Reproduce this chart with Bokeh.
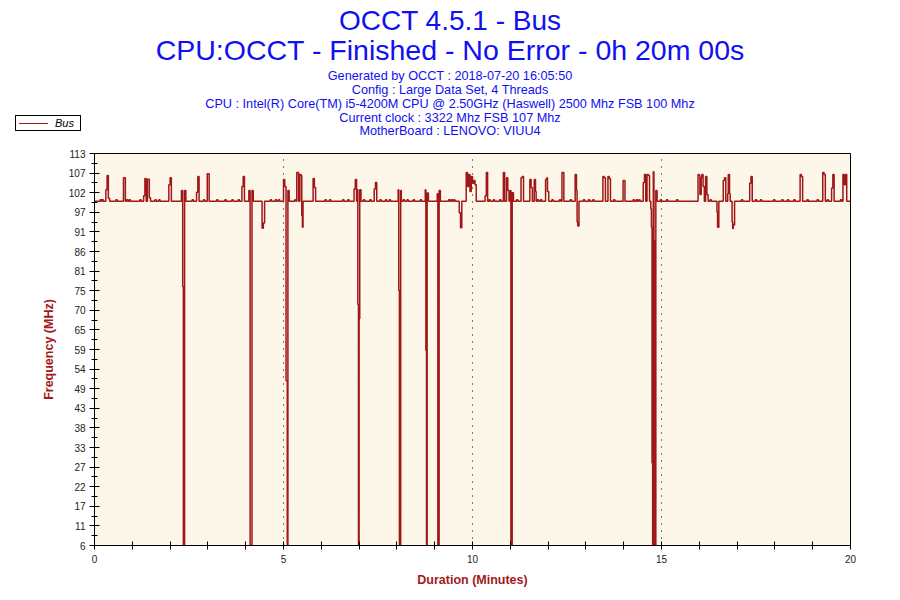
from bokeh.plotting import figure
from bokeh.layouts import column
from bokeh.models import Range1d, FixedTicker, ColumnDataSource, Div
from bokeh.embed import file_html
from bokeh.resources import INLINE

# ---------------- data ----------------
BASE_MHZ = 100.0          # steady bus clock
BLIP_MHZ = 100.4          # tiny one-sample bumps
DURATION_S = 1200         # 20 minutes

# moments (seconds) where the bus value changes, and the value from then on
change_s = [18, 20, 22, 24,
            46, 49,
            78, 80, 82, 84, 87, 89,
            118, 120, 122,
            138, 140, 141, 143, 145,
            162, 164, 166,
            179, 182,
            234, 236, 238,
            245, 247, 250, 252,
            266, 268, 270,
            300, 302, 304, 306, 307, 309,
            321, 324, 326, 328, 329, 330, 331,
            347, 349, 351,
            412, 414, 416, 417, 418, 419, 420, 421, 423,
            444, 446, 448,
            482, 483, 484, 486, 487,
            525, 526, 527, 528, 530,
            544, 545, 547, 549,
            579, 581, 583,
            590, 592, 594, 596, 598, 600, 602, 604, 606,
            620, 622, 624,
            649, 651,
            654, 656, 658, 659, 660, 661, 663, 665,
            677, 679, 681,
            691, 693, 695, 698, 700, 701,
            716, 718, 719, 721,
            742, 745,
            763, 765, 766, 767, 769,
            807, 809, 811,
            815, 817, 819,
            839, 842,
            871, 873, 875,
            877, 879, 881,
            883, 884, 885, 886, 887, 888, 889, 891, 893,
            958, 960, 961, 963, 964, 966, 968, 970, 972, 974,
            988, 989, 991,
            998, 1000, 1002,
            1005, 1006, 1008, 1009,
            1012, 1013, 1014, 1016,
            1040, 1042, 1044,
            1120, 1122, 1124,
            1156, 1158, 1160,
            1170, 1172, 1174,
            1188, 1190, 1192, 1194]
change_v = [103.1, 107.0, 100.8, 100,
            106.4, 100,
            101.5, 106.2, 100, 106.0, 100.9, 100,
            104.5, 106.4, 100,
            102.9, 76.7, 6, 102.9, 100,
            102.4, 106.7, 100,
            107.5, 100,
            104.0, 106.7, 100,
            102.9, 6, 102.9, 100,
            92.6, 94.0, 100,
            105.9, 104.0, 51.0, 6, 102.9, 100,
            107.8, 100, 107.3, 107.0, 96.1, 92.9, 100,
            106.2, 103.7, 100,
            103.3, 105.9, 100, 103.1, 71.8, 6, 67.9, 103.1, 100,
            103.3, 105.1, 100,
            103.1, 75.6, 6, 102.9, 100,
            103.1, 59.2, 6, 102.2, 100,
            102.0, 6, 102.9, 100,
            96.8, 92.7, 100,
            107.8, 104.0, 107.3, 102.6, 106.7, 104.9, 105.6, 104.5, 100,
            101.5, 107.8, 100,
            107.8, 100,
            106.4, 102.9, 100, 101.8, 102.9, 6, 102.3, 100,
            106.4, 106.7, 100,
            105.9, 103.7, 100, 105.9, 102.6, 100,
            105.9, 106.4, 102.6, 100,
            107.8, 100,
            107.3, 102.9, 94.3, 93.2, 100,
            106.7, 106.4, 100,
            106.7, 106.2, 100,
            105.6, 100,
            105.1, 107.3, 100,
            107.3, 107.0, 100,
            97.9, 92.9, 28.5, 6, 108.0, 89.3, 6, 102.9, 100,
            107.3, 107.0, 101.8, 106.4, 107.3, 104.0, 100, 106.7, 101.8, 100,
            97.0, 92.9, 100,
            105.6, 106.4, 100,
            102.0, 107.3, 102.0, 100,
            94.3, 92.5, 93.5, 100,
            104.9, 106.7, 100,
            107.3, 106.7, 100,
            107.8, 107.3, 100,
            103.6, 107.3, 100,
            107.3, 104.5, 107.3, 100]

# one-sample bumps of the baseline (seconds)
blip_s = [9, 12, 34, 51, 55, 72, 96, 102, 155, 173, 194, 207, 218, 228, 279, 287,
          292, 318, 366, 373, 394, 402, 427, 437, 453, 462, 468, 490, 496, 506, 517,
          562, 566, 570, 626, 633, 643, 670, 703, 708, 726, 738, 755, 776, 784, 791,
          824, 855, 860, 864, 898, 908, 924, 977, 1027, 1049, 1057, 1078, 1091, 1100,
          1110, 1131, 1147, 1163, 1184]

x_tick_minutes = list(range(0, 21))
x_tick_labels = {0: "0", 5: "5", 10: "10", 15: "15", 20: "20"}
y_tick_labels = ["6", "11", "17", "22", "27", "33", "38", "43", "49", "54", "59",
                 "65", "70", "75", "81", "86", "91", "97", "102", "107", "113"]

titles = ["OCCT 4.5.1 - Bus", "CPU:OCCT - Finished - No Error - 0h 20m 00s"]
info_lines = ["Generated by OCCT : 2018-07-20 16:05:50",
              "Config : Large Data Set, 4 Threads",
              "CPU : Intel(R) Core(TM) i5-4200M CPU @ 2.50GHz (Haswell) 2500 Mhz FSB 100 Mhz",
              "Current clock : 3322 Mhz FSB 107 Mhz",
              "MotherBoard : LENOVO: VIUU4"]
series_name = "Bus"

# ---------------- build the step series ----------------
pts = [(0, BASE_MHZ)]
pts += list(zip(change_s, change_v))
for b in blip_s:
    pts += [(b, BLIP_MHZ), (b + 2, BASE_MHZ)]
pts.append((DURATION_S, BASE_MHZ))
pts.sort(key=lambda p: p[0])
src = ColumnDataSource(dict(t=[p[0] / 60.0 for p in pts], v=[p[1] for p in pts]))

# ---------------- styles ----------------
FONT = "Liberation Sans"
LINE_RED = "#A01717"
LABEL_RED = "#A31A1A"
BLUE = "#1010F0"
LINE_W = 1.5

PAGE_W = 900
HEAD_H = 140            # header strip (titles + legend)
CHART_H = 460

# ---------------- header strip (titles, run info, legend) ----------------
def text_line(text, baseline_y, size):
    top = baseline_y - 0.8465 * size      # line-height 1em -> baseline sits 0.8465em below top
    return (f'<div style="position:absolute;left:0;top:{top:.1f}px;width:{PAGE_W}px;'
            f'text-align:center;white-space:nowrap;font-size:{size}px;line-height:{size}px;'
            f'color:{BLUE};">{text}</div>')

parts = [text_line(titles[0], 31, 28.0), text_line(titles[1], 60, 28.5)]
for i, line in enumerate(info_lines):
    parts.append(text_line(line, 81 + i * 13.8, 12.7))
parts.append(
    '<div style="position:absolute;left:15px;top:115px;width:66px;height:16px;'
    'border:1px solid #000;background:#fff;">'
    f'<div style="position:absolute;left:3px;top:7px;width:29px;height:0;'
    f'border-top:{LINE_W}px solid {LINE_RED};"></div>'
    '<div style="position:absolute;left:39px;top:2px;font-size:11px;line-height:11px;'
    f'font-style:italic;color:#000;">{series_name}</div></div>')
html = (f'<div style="position:relative;width:{PAGE_W}px;height:{HEAD_H}px;'
        f'font-family:\'{FONT}\';background:#fff;">' + "".join(parts) + '</div>')
head = Div(text=html, width=PAGE_W, height=HEAD_H, margin=0)

# ---------------- chart ----------------
X0, X1, Y0, Y1 = 0, 20, 6, 113
p = figure(width=PAGE_W, height=CHART_H, x_range=Range1d(X0, X1), y_range=Range1d(Y0, Y1),
           output_backend="svg", toolbar_location=None,
           min_border_left=94, min_border_right=50, min_border_top=153 - HEAD_H,
           min_border_bottom=HEAD_H + CHART_H - 545)
p.background_fill_color = "#FDF7E9"
p.border_fill_color = "white"
p.outline_line_color = "black"
p.outline_line_alpha = 1
p.outline_line_width = 1

r = p.step("t", "v", source=src, mode="after", line_color=LINE_RED, line_width=LINE_W)

ymaj = [round(Y0 + (Y1 - Y0) * i / 20, 3) for i in range(21)]
ymin = [round((a + b) / 2, 3) for a, b in zip(ymaj[:-1], ymaj[1:])]
p.yaxis.ticker = FixedTicker(ticks=ymaj, minor_ticks=ymin)
p.yaxis.major_label_overrides = {t: l for t, l in zip(ymaj, y_tick_labels)}
p.xaxis.ticker = FixedTicker(ticks=x_tick_minutes, minor_ticks=[])
p.xaxis.major_label_overrides = {m: x_tick_labels.get(m, "") for m in x_tick_minutes}

for ax in (p.xaxis, p.yaxis):
    ax.axis_line_color = "black"
    ax.major_tick_line_color = "black"
    ax.minor_tick_line_color = "black"
    ax.major_label_text_font = FONT
    ax.major_label_text_font_size = "10px"
    ax.major_label_text_color = "#222222"
    ax.axis_label_text_font = FONT
    ax.axis_label_text_font_style = "bold"
    ax.axis_label_text_font_size = "12.5px"
    ax.axis_label_text_color = LABEL_RED

p.xaxis.major_tick_in = 4
p.xaxis.major_tick_out = 4
p.xaxis.major_label_standoff = 5
p.xaxis.axis_label = "Duration (Minutes)"
p.xaxis.axis_label_standoff = 7

p.yaxis.major_tick_in = 5
p.yaxis.major_tick_out = 5
p.yaxis.minor_tick_in = 3
p.yaxis.minor_tick_out = 3
p.yaxis.major_label_standoff = 4
p.yaxis.axis_label = "Frequency (MHz)"
p.yaxis.axis_label_standoff = 10

p.ygrid.visible = False
p.xgrid.ticker = FixedTicker(ticks=[5, 10, 15])
p.xgrid.grid_line_color = "black"
p.xgrid.grid_line_dash = "1 6"
p.xgrid.grid_line_width = 1

page = column(head, p, spacing=0)
open("out.html", "w").write(file_html(page, INLINE))
